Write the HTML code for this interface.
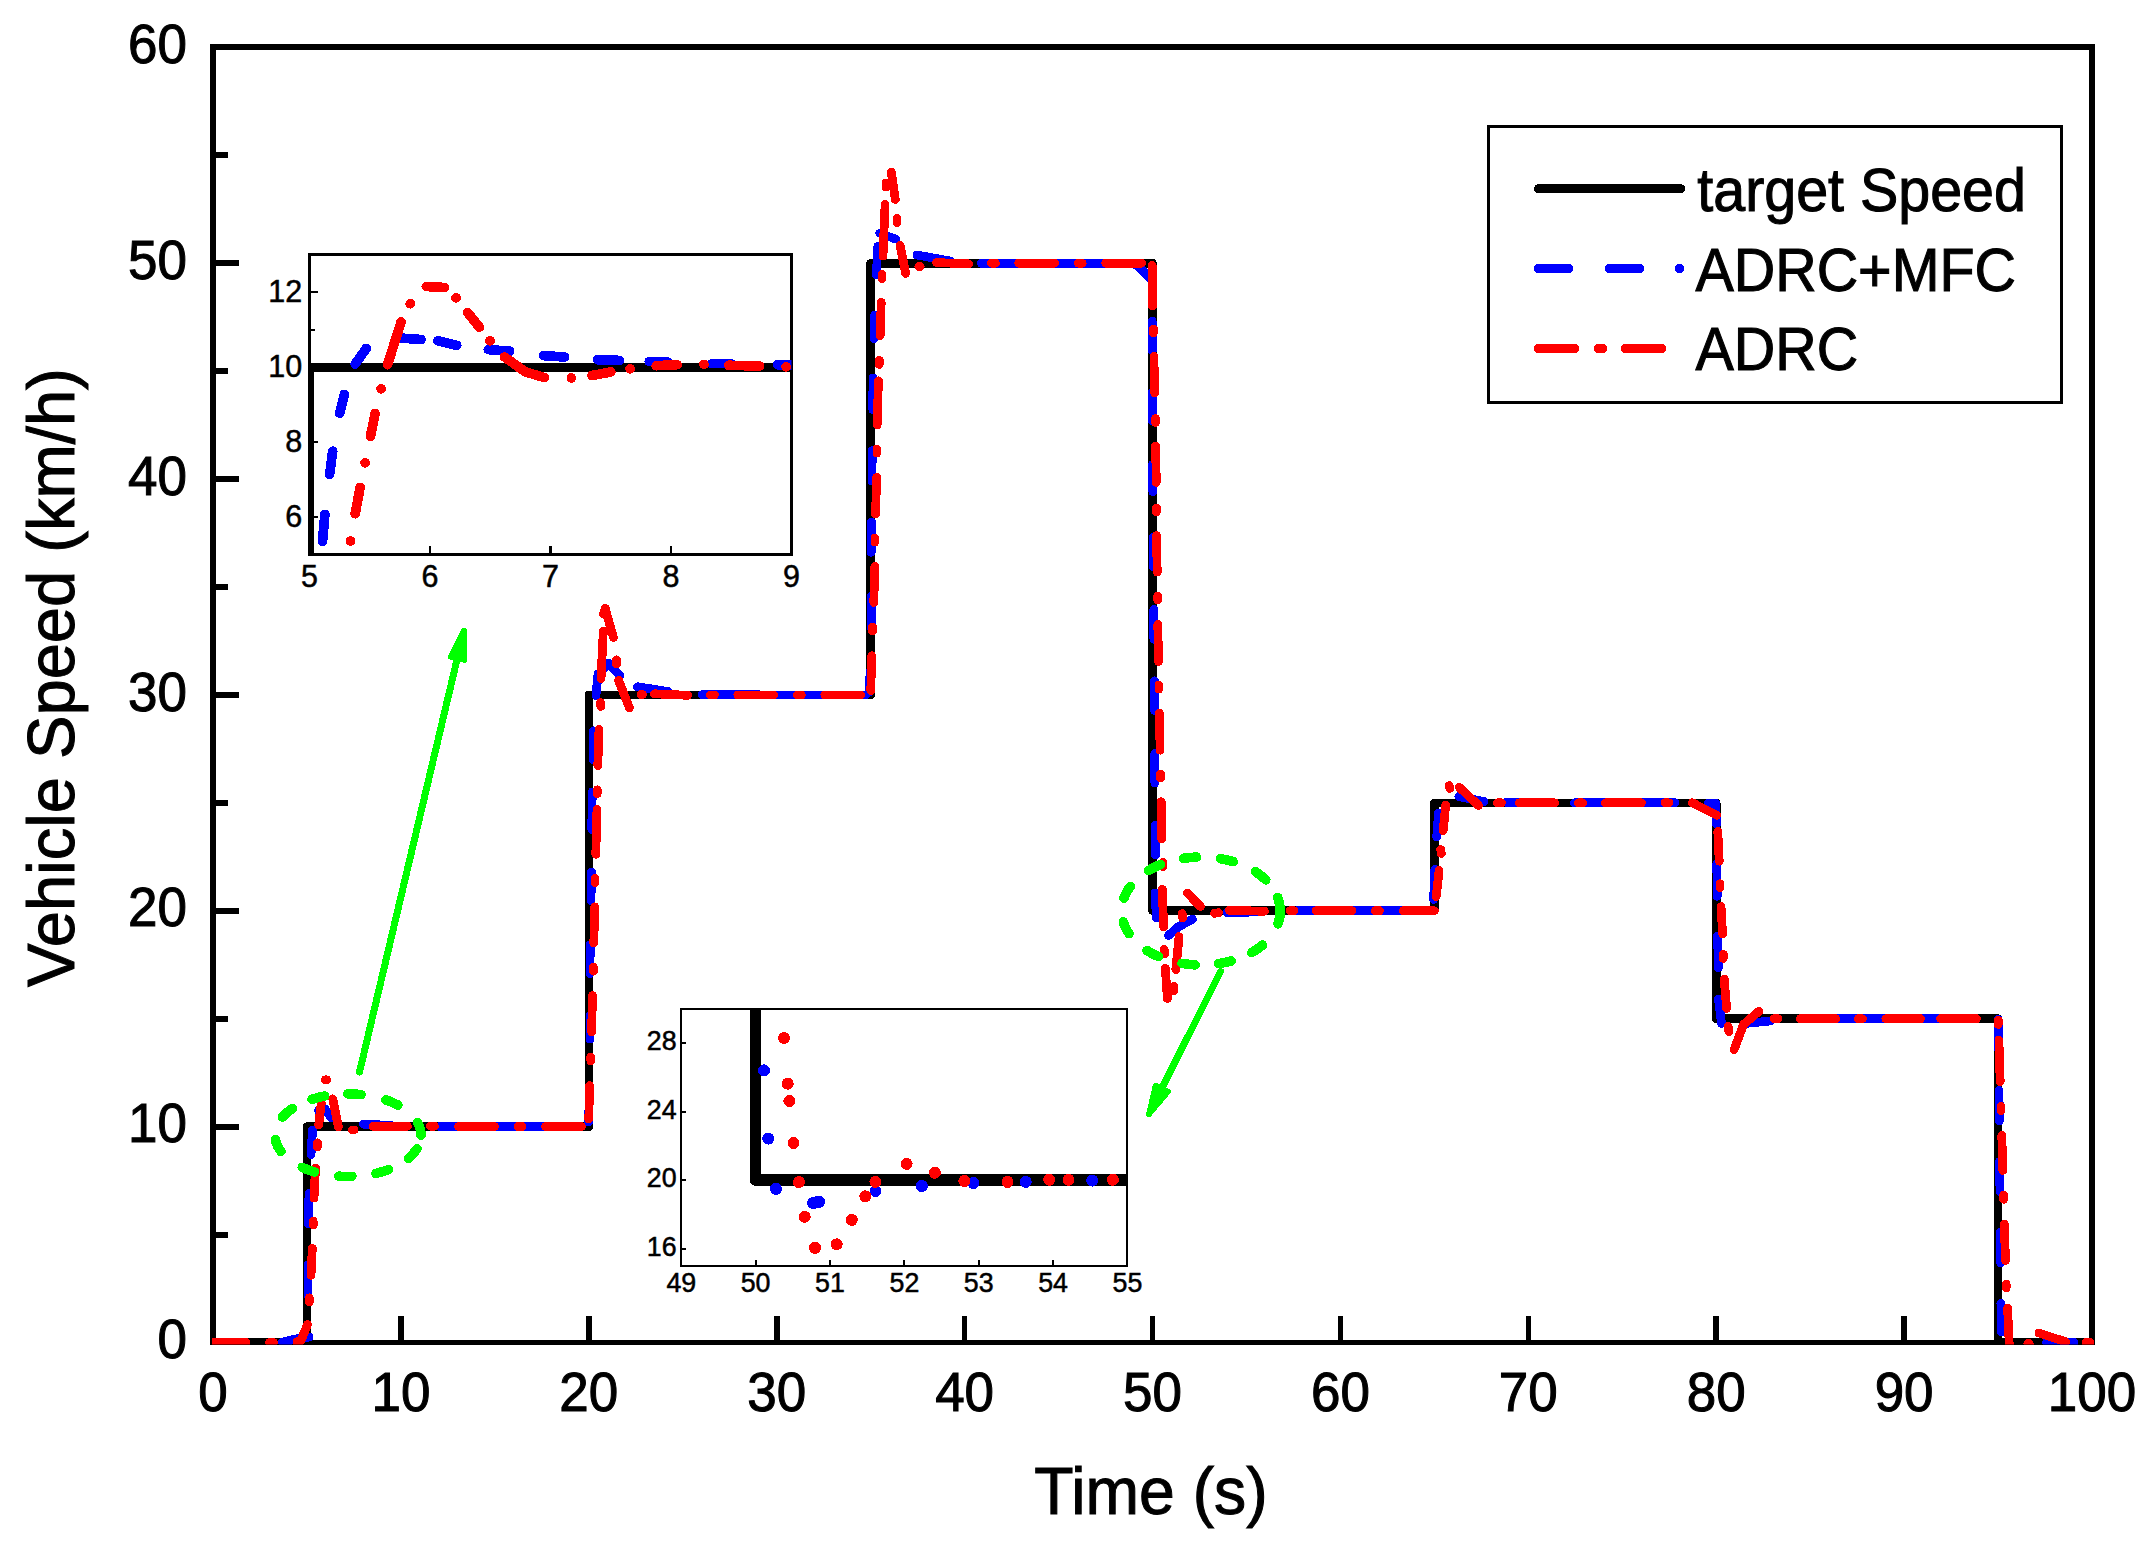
<!DOCTYPE html>
<html lang="en"><head><meta charset="utf-8"><title>Vehicle Speed</title>
<style>html,body{margin:0;padding:0;background:#fff}svg{display:block}text{font-family:"Liberation Sans",Arial,sans-serif;fill:#000}</style>
</head><body>
<svg shape-rendering="crispEdges" width="2148" height="1548" viewBox="0 0 2148 1548">
<rect width="2148" height="1548" fill="#fff"/>
<defs><clipPath id="cpMain"><rect x="212" y="44" width="1883" height="1300.6"/></clipPath>
<clipPath id="cpIn1"><rect x="309.5" y="254.7" width="482" height="299.8"/></clipPath>
<clipPath id="cpIn2"><rect x="681.3" y="1009.2" width="446.1" height="256.4"/></clipPath></defs>
<g stroke="#000" fill="none">
<path d="M213 1345 V47 H2092 V1345" stroke-width="6" stroke-linejoin="miter"/>
<line x1="210" y1="1342.5" x2="2095" y2="1342.5" stroke-width="5"/>
<line x1="213.0" y1="1342.4" x2="239" y2="1342.4" stroke-width="6"/>
<line x1="213.0" y1="1126.6" x2="239" y2="1126.6" stroke-width="6"/>
<line x1="213.0" y1="910.7" x2="239" y2="910.7" stroke-width="6"/>
<line x1="213.0" y1="694.9" x2="239" y2="694.9" stroke-width="6"/>
<line x1="213.0" y1="479.1" x2="239" y2="479.1" stroke-width="6"/>
<line x1="213.0" y1="263.2" x2="239" y2="263.2" stroke-width="6"/>
<line x1="213.0" y1="47.4" x2="239" y2="47.4" stroke-width="6"/>
<line x1="213.0" y1="1234.5" x2="228" y2="1234.5" stroke-width="6"/>
<line x1="213.0" y1="1018.7" x2="228" y2="1018.7" stroke-width="6"/>
<line x1="213.0" y1="802.8" x2="228" y2="802.8" stroke-width="6"/>
<line x1="213.0" y1="587.0" x2="228" y2="587.0" stroke-width="6"/>
<line x1="213.0" y1="371.2" x2="228" y2="371.2" stroke-width="6"/>
<line x1="213.0" y1="155.3" x2="228" y2="155.3" stroke-width="6"/>
<line x1="213.0" y1="1342" x2="213.0" y2="1316.2" stroke-width="5.6"/>
<line x1="400.9" y1="1342" x2="400.9" y2="1316.2" stroke-width="5.6"/>
<line x1="588.8" y1="1342" x2="588.8" y2="1316.2" stroke-width="5.6"/>
<line x1="776.7" y1="1342" x2="776.7" y2="1316.2" stroke-width="5.6"/>
<line x1="964.6" y1="1342" x2="964.6" y2="1316.2" stroke-width="5.6"/>
<line x1="1152.5" y1="1342" x2="1152.5" y2="1316.2" stroke-width="5.6"/>
<line x1="1340.4" y1="1342" x2="1340.4" y2="1316.2" stroke-width="5.6"/>
<line x1="1528.3" y1="1342" x2="1528.3" y2="1316.2" stroke-width="5.6"/>
<line x1="1716.2" y1="1342" x2="1716.2" y2="1316.2" stroke-width="5.6"/>
<line x1="1904.1" y1="1342" x2="1904.1" y2="1316.2" stroke-width="5.6"/>
<line x1="2092.0" y1="1342" x2="2092.0" y2="1316.2" stroke-width="5.6"/>
</g>
<text transform="translate(187.0,1358.1) scale(1,1.037)" font-size="53px" text-anchor="end" stroke="#000" stroke-width="1.0">0</text>
<text transform="translate(187.0,1142.3) scale(1,1.037)" font-size="53px" text-anchor="end" stroke="#000" stroke-width="1.0">10</text>
<text transform="translate(187.0,926.4) scale(1,1.037)" font-size="53px" text-anchor="end" stroke="#000" stroke-width="1.0">20</text>
<text transform="translate(187.0,710.6) scale(1,1.037)" font-size="53px" text-anchor="end" stroke="#000" stroke-width="1.0">30</text>
<text transform="translate(187.0,494.8) scale(1,1.037)" font-size="53px" text-anchor="end" stroke="#000" stroke-width="1.0">40</text>
<text transform="translate(187.0,278.9) scale(1,1.037)" font-size="53px" text-anchor="end" stroke="#000" stroke-width="1.0">50</text>
<text transform="translate(187.0,63.1) scale(1,1.037)" font-size="53px" text-anchor="end" stroke="#000" stroke-width="1.0">60</text>
<text transform="translate(213.0,1410.6) scale(1,1.037)" font-size="53px" text-anchor="middle" stroke="#000" stroke-width="1.0">0</text>
<text transform="translate(400.9,1410.6) scale(1,1.037)" font-size="53px" text-anchor="middle" stroke="#000" stroke-width="1.0">10</text>
<text transform="translate(588.8,1410.6) scale(1,1.037)" font-size="53px" text-anchor="middle" stroke="#000" stroke-width="1.0">20</text>
<text transform="translate(776.7,1410.6) scale(1,1.037)" font-size="53px" text-anchor="middle" stroke="#000" stroke-width="1.0">30</text>
<text transform="translate(964.6,1410.6) scale(1,1.037)" font-size="53px" text-anchor="middle" stroke="#000" stroke-width="1.0">40</text>
<text transform="translate(1152.5,1410.6) scale(1,1.037)" font-size="53px" text-anchor="middle" stroke="#000" stroke-width="1.0">50</text>
<text transform="translate(1340.4,1410.6) scale(1,1.037)" font-size="53px" text-anchor="middle" stroke="#000" stroke-width="1.0">60</text>
<text transform="translate(1528.3,1410.6) scale(1,1.037)" font-size="53px" text-anchor="middle" stroke="#000" stroke-width="1.0">70</text>
<text transform="translate(1716.2,1410.6) scale(1,1.037)" font-size="53px" text-anchor="middle" stroke="#000" stroke-width="1.0">80</text>
<text transform="translate(1904.1,1410.6) scale(1,1.037)" font-size="53px" text-anchor="middle" stroke="#000" stroke-width="1.0">90</text>
<text transform="translate(2092.0,1410.6) scale(1,1.037)" font-size="53px" text-anchor="middle" stroke="#000" stroke-width="1.0">100</text>
<text transform="translate(1151.0,1514.0) scale(1,1.040)" font-size="64.3px" text-anchor="middle" stroke="#000" stroke-width="1.0">Time (s)</text>
<text transform="translate(74.0,677.6) rotate(-90) scale(1,1.030)" font-size="65.1px" text-anchor="middle" stroke="#000" stroke-width="1.0">Vehicle Speed (km/h)</text>
<g clip-path="url(#cpMain)" fill="none" stroke-linejoin="round">
<polyline points="213.0,1342.4 306.9,1342.4 306.9,1126.6 588.8,1126.6 588.8,694.9 870.6,694.9 870.6,263.2 1152.5,263.2 1152.5,910.7 1434.3,910.7 1434.3,802.8 1716.2,802.8 1716.2,1018.7 1998.0,1018.7 1998.0,1342.4 2092.0,1342.4" stroke="#000" stroke-width="8.6"/>
<path d="M363.4 1124.2 L391.0 1125.4 M439.5 1126.6 L579.0 1126.6 M702.0 694.8 L760.0 694.9 M760.0 694.9 L866.0 694.9 M981.4 263.4 L1030.0 263.2 M1030.0 263.2 L1130.0 263.2 M1130.0 263.2 L1137.0 264.8 M1137.0 264.8 L1151.5 279.5 M1297.8 910.4 L1430.0 910.7 M1506.0 802.3 L1545.0 802.6 M1574.4 802.8 L1675.0 802.8 M1819.0 1018.7 L1947.0 1018.7 M588.8 1110.4 L588.8 1122.0 M590.0 1015.9 L590.0 1039.1 M590.2 944.6 L590.0 973.6 M591.4 871.9 L591.0 900.9 M592.2 791.9 L591.8 829.6 M593.6 730.8 L593.2 759.8 M870.0 671.7 L869.6 692.0 M871.2 596.0 L871.2 628.0 M871.4 521.9 L871.2 552.3 M872.2 450.6 L872.0 481.1 M873.0 377.9 L872.8 409.8 M874.6 315.3 L874.0 338.5 M1152.2 321.0 L1152.3 350.6 M1152.4 392.3 L1152.5 421.0 M1152.7 464.3 L1152.8 491.8 M1153.2 536.9 L1153.3 566.6 M1153.8 609.5 L1153.9 639.2 M1154.4 680.8 L1154.5 710.5 M1154.8 753.4 L1154.9 783.1 M1155.4 825.2 L1155.5 854.8 M282.6 1342.0 L296.0 1339.0 M296.0 1339.0 L309.0 1337.0 M308.0 1265.0 L308.0 1295.5 M309.0 1193.5 L308.5 1224.0 M312.5 1130.0 L311.0 1154.5 M318.5 1110.5 L322.0 1108.5 M322.0 1108.5 L325.0 1109.0 M325.0 1109.0 L331.0 1117.5 M598.0 674.0 L596.0 695.5 M604.0 668.0 L608.0 663.0 M608.0 663.0 L620.0 675.5 M637.5 686.8 L668.0 691.5 M877.9 246.2 L876.3 274.7 M879.8 233.3 L895.5 239.0 M917.0 255.0 L950.0 261.0 M1155.0 893.0 L1156.5 918.0 M1168.5 935.5 L1178.0 927.0 M1178.0 927.0 L1192.5 919.3 M1227.0 912.5 L1255.0 912.0 M1434.8 869.5 L1433.6 899.4 M1438.5 813.0 L1436.7 836.8 M1458.8 796.5 L1484.0 801.5 M1708.5 803.2 L1715.8 803.5 M1715.8 803.5 L1716.5 824.0 M1716.8 863.6 L1717.2 896.3 M1717.6 936.0 L1718.4 967.6 M1718.5 999.0 L1721.5 1023.5 M1745.0 1023.5 L1770.0 1021.0 M1998.3 1019.5 L1998.6 1049.8 M1999.0 1090.5 L1999.3 1120.8 M1999.6 1161.5 L2000.0 1191.8 M2000.3 1232.5 L2000.6 1262.8 M2000.9 1303.5 L2001.4 1331.8 M2046.4 1342.5 L2073.8 1342.5" stroke="#0000ff" stroke-width="8.8" stroke-linecap="round" stroke-linejoin="round"/>
<path d="M458.5 1126.6 L494.5 1126.6 M518.0 1126.6 L522.0 1126.6 M545.5 1126.6 L581.5 1126.6 M737.8 694.9 L773.8 694.9 M797.3 694.9 L801.3 694.9 M824.8 694.9 L860.8 694.9 M1018.7 263.2 L1054.7 263.2 M1078.2 263.2 L1082.2 263.2 M1105.7 263.2 L1141.7 263.2 M1316.0 910.7 L1352.0 910.7 M1375.5 910.7 L1379.5 910.7 M1605.4 802.8 L1641.4 802.8 M1664.9 802.8 L1668.9 802.8 M589.6 1085.7 L588.8 1119.0 M590.8 1056.9 L590.8 1060.9 M592.5 995.5 L591.6 1031.8 M593.5 967.3 L593.5 971.3 M594.8 906.8 L593.8 943.1 M594.9 878.5 L594.9 882.5 M597.0 809.3 L595.8 854.3 M597.2 789.8 L597.2 793.8 M599.0 729.3 L597.8 765.6 M871.7 655.7 L870.8 690.5 M872.6 626.9 L872.6 630.9 M874.8 566.4 L873.8 602.4 M874.9 538.1 L874.9 542.1 M876.6 477.4 L875.6 513.9 M876.9 449.1 L876.9 453.1 M878.4 380.8 L877.2 424.9 M879.3 360.4 L879.3 364.4 M881.2 302.2 L880.2 335.6 M1152.2 265.5 L1152.6 306.0 M1153.4 329.0 L1153.4 333.0 M1153.9 356.3 L1154.6 392.8 M1155.5 418.6 L1155.5 422.6 M1155.6 446.0 L1156.3 482.4 M1156.4 507.9 L1156.4 511.9 M1156.5 535.6 L1157.2 572.1 M1157.7 595.9 L1157.7 599.9 M1157.8 624.4 L1158.5 661.4 M1158.9 685.1 L1158.9 689.1 M1159.4 713.3 L1160.1 750.2 M1160.6 773.9 L1160.6 777.9 M1161.2 801.7 L1161.8 839.0 M213.0 1342.4 L246.0 1342.4 M269.5 1342.4 L273.5 1342.4 M297.0 1342.0 L301.0 1340.5 M301.0 1340.5 L307.5 1324.5 M309.3 1297.8 L309.3 1301.8 M312.3 1248.5 L311.0 1275.3 M313.2 1221.1 L313.2 1225.1 M315.5 1168.0 L314.0 1198.0 M317.4 1142.8 L317.4 1146.8 M318.7 1124.8 L321.3 1103.0 M325.2 1079.8 L326.8 1079.8 M332.7 1098.9 L338.4 1126.8 M352.6 1129.9 L354.1 1129.9 M373.2 1126.3 L407.4 1126.3 M430.5 1126.3 L434.5 1126.3 M600.5 702.5 L600.8 706.5 M601.0 678.6 L603.3 631.0 M603.6 614.0 L605.2 608.3 M605.2 608.3 L613.4 637.5 M616.5 659.8 L616.5 663.8 M618.6 680.4 L629.4 707.8 M641.0 694.4 L642.5 694.4 M654.5 693.8 L687.6 695.3 M710.4 694.9 L714.4 694.9 M882.0 274.5 L882.0 278.5 M883.0 256.0 L885.1 204.3 M886.0 183.0 L886.0 187.0 M891.3 172.0 L895.3 199.5 M897.0 218.6 L897.0 222.6 M900.1 245.4 L905.6 273.4 M918.8 266.6 L920.2 266.6 M936.5 262.6 L968.6 263.8 M991.4 263.2 L995.4 263.2 M1163.0 862.5 L1163.0 866.5 M1162.3 889.3 L1163.6 926.8 M1182.3 913.5 L1182.7 918.0 M1187.5 893.2 L1200.6 906.5 M1214.5 913.3 L1218.5 912.7 M1229.3 910.3 L1264.5 911.3 M1290.0 910.7 L1294.0 910.7 M1164.2 949.3 L1164.6 953.7 M1179.1 936.6 L1175.8 969.6 M1165.3 968.3 L1167.4 998.5 M1173.8 986.5 L1173.8 990.5 M1403.3 910.7 L1434.4 910.7 M1439.1 870.4 L1436.2 896.7 M1440.7 849.5 L1441.3 853.5 M1445.7 805.2 L1443.2 830.6 M1449.2 785.5 L1449.8 788.5 M1459.4 787.4 L1478.6 805.5 M1497.4 802.8 L1501.4 802.8 M1519.3 802.8 L1554.7 802.8 M1578.5 802.8 L1582.5 802.8 M1692.3 802.8 L1716.8 815.2 M1717.8 831.5 L1719.2 861.2 M1720.0 883.7 L1720.0 887.7 M1721.0 906.6 L1722.6 934.0 M1723.3 954.4 L1723.3 958.4 M1724.2 979.0 L1726.6 1008.3 M1728.2 1026.5 L1728.8 1031.6 M1734.1 1049.5 L1743.4 1024.7 M1743.4 1024.7 L1758.9 1011.3 M1774.0 1018.7 L1778.0 1018.7 M1800.4 1018.7 L1835.7 1018.7 M1858.4 1018.7 L1862.4 1018.7 M1885.8 1018.7 L1920.5 1018.7 M1940.6 1018.7 L1976.5 1018.7 M1998.3 1020.4 L1998.3 1024.4 M1998.9 1040.0 L2000.2 1081.6 M2001.0 1106.5 L2001.0 1110.5 M2001.8 1135.4 L2002.8 1170.4 M2003.6 1195.3 L2003.6 1199.3 M2004.3 1224.2 L2005.5 1260.4 M2006.2 1284.0 L2006.2 1288.0 M2007.6 1308.2 L2009.3 1346.0 M2027.8 1343.5 L2029.3 1343.5 M2039.0 1333.0 L2065.5 1341.8 M2086.0 1342.4 L2090.0 1342.4" stroke="#ff0000" stroke-width="8.8" stroke-linecap="round" stroke-linejoin="round"/>
</g>
<g fill="none" stroke="#00ff00" stroke-linecap="round" stroke-linejoin="round">
<path d="M347.9 1093.9 L351.1 1093.9 M351.1 1093.9 L354.4 1094.1 M354.4 1094.1 L357.7 1094.3 M357.7 1094.3 L360.9 1094.6 M385.9 1099.9 L388.9 1101.0 M388.9 1101.0 L391.9 1102.2 M391.9 1102.2 L394.9 1103.6 M394.9 1103.6 L397.9 1105.0 M417.6 1122.7 L419.0 1125.7 M419.0 1125.7 L420.1 1128.7 M420.1 1128.7 L420.8 1132.0 M420.8 1132.0 L421.0 1135.2 M417.0 1148.7 L415.1 1151.4 M415.1 1151.4 L413.0 1153.9 M413.0 1153.9 L410.7 1156.3 M410.7 1156.3 L408.3 1158.5 M388.5 1169.6 L385.4 1170.7 M385.4 1170.7 L382.3 1171.7 M382.3 1171.7 L379.1 1172.6 M379.1 1172.6 L375.9 1173.4 M351.9 1176.4 L348.7 1176.5 M348.7 1176.5 L345.5 1176.5 M345.5 1176.5 L342.1 1176.4 M342.1 1176.4 L338.9 1176.2 M314.5 1171.9 L311.3 1170.9 M311.3 1170.9 L308.2 1169.8 M308.2 1169.8 L305.1 1168.6 M305.1 1168.6 L302.2 1167.3 M280.9 1151.4 L279.0 1148.7 M279.0 1148.7 L277.5 1145.9 M277.5 1145.9 L276.3 1142.8 M276.3 1142.8 L275.4 1139.7 M282.5 1117.0 L284.7 1114.6 M284.7 1114.6 L287.1 1112.4 M287.1 1112.4 L289.7 1110.3 M289.7 1110.3 L292.4 1108.5 M312.1 1099.3 L315.2 1098.3 M315.2 1098.3 L318.3 1097.5 M318.3 1097.5 L321.5 1096.7 M321.5 1096.7 L324.7 1096.1" stroke-width="9.6"/>
<path d="M1183.5 858.3 L1186.8 857.9 M1186.8 857.9 L1190.0 857.5 M1190.0 857.5 L1193.3 857.3 M1193.3 857.3 L1196.5 857.1 M1220.5 858.6 L1223.7 859.3 M1223.7 859.3 L1226.8 859.9 M1226.8 859.9 L1230.0 860.7 M1230.0 860.7 L1233.2 861.6 M1255.5 871.8 L1258.2 873.6 M1258.2 873.6 L1260.8 875.6 M1260.8 875.6 L1263.4 877.7 M1263.4 877.7 L1265.8 879.9 M1277.7 897.4 L1279.6 903.9 M1279.6 903.9 L1280.3 910.5 M1280.3 910.5 L1279.8 917.3 M1279.8 917.3 L1278.0 923.8 M1262.5 945.1 L1260.0 947.1 M1260.0 947.1 L1257.4 949.0 M1257.4 949.0 L1254.6 950.8 M1254.6 950.8 L1251.8 952.5 M1231.2 960.9 L1228.0 961.8 M1228.0 961.8 L1224.8 962.5 M1224.8 962.5 L1221.6 963.1 M1221.6 963.1 L1218.4 963.7 M1195.1 964.9 L1191.8 964.6 M1191.8 964.6 L1188.6 964.3 M1188.6 964.3 L1185.3 963.9 M1185.3 963.9 L1182.1 963.4 M1158.6 956.6 L1155.6 955.3 M1155.6 955.3 L1152.7 953.8 M1152.7 953.8 L1149.8 952.2 M1149.8 952.2 L1147.0 950.6 M1129.0 933.6 L1127.2 930.8 M1127.2 930.8 L1125.7 928.0 M1125.7 928.0 L1124.4 924.9 M1124.4 924.9 L1123.3 921.9 M1124.0 898.0 L1125.3 895.0 M1125.3 895.0 L1126.7 892.1 M1126.7 892.1 L1128.4 889.3 M1128.4 889.3 L1130.3 886.6 M1148.7 870.4 L1151.5 868.8 M1151.5 868.8 L1154.4 867.3 M1154.4 867.3 L1157.4 865.9 M1157.4 865.9 L1160.4 864.6" stroke-width="9.6"/>
<line x1="359.5" y1="1072.0" x2="457.1" y2="659.2" stroke-width="7.0"/>
<polygon points="464.0,630.4 464.1,660.0 450.6,656.8" fill="#00ff00" stroke-width="5.6"/>
<line x1="1220.6" y1="971.5" x2="1162.1" y2="1087.9" stroke-width="7.0"/>
<polygon points="1148.9,1114.3 1155.6,1085.5 1168.0,1091.7" fill="#00ff00" stroke-width="5.6"/>
</g>
<rect x="1488.5" y="126.5" width="573" height="276" fill="none" stroke="#000" stroke-width="3"/>
<g fill="none" stroke-linecap="round">
<line x1="1538.5" y1="188.7" x2="1680.7" y2="188.7" stroke="#000" stroke-width="9"/>
<path d="M1538.6 268.6 H1568.4 M1609.5 268.6 H1639.5 M1679.5 268.6 h0.1" stroke="#0000ff" stroke-width="9.5"/>
<path d="M1538.6 348.5 H1574.4 M1598.4 348.5 H1602.4 M1625.7 348.5 H1661.6" stroke="#ff0000" stroke-width="9.5"/>
</g>
<text transform="translate(1697.3,211.2) scale(1,1.050)" font-size="57.4px" text-anchor="start" stroke="#000" stroke-width="1.0">target Speed</text>
<text transform="translate(1695.5,290.8) scale(1,1.050)" font-size="57.4px" text-anchor="start" stroke="#000" stroke-width="1.0">ADRC+MFC</text>
<text transform="translate(1695.5,370.1) scale(1,1.050)" font-size="57.4px" text-anchor="start" stroke="#000" stroke-width="1.0">ADRC</text>
<g clip-path="url(#cpIn1)" fill="none">
<polyline points="309.5,592.0 309.5,367.6 815.6,367.6" stroke="#000" stroke-width="9.7" stroke-linejoin="miter"/>
</g>
<g fill="none" stroke="#000">
<rect x="309.5" y="254.7" width="482.0" height="299.8" stroke-width="2.8"/>
<line x1="430.0" y1="554.5" x2="430.0" y2="545.5" stroke-width="2.2"/>
<line x1="550.5" y1="554.5" x2="550.5" y2="545.5" stroke-width="2.2"/>
<line x1="671.0" y1="554.5" x2="671.0" y2="545.5" stroke-width="2.2"/>
<line x1="309.5" y1="517.0" x2="317.5" y2="517.0" stroke-width="2.2"/>
<line x1="309.5" y1="442.1" x2="317.5" y2="442.1" stroke-width="2.2"/>
<line x1="309.5" y1="367.1" x2="317.5" y2="367.1" stroke-width="2.2"/>
<line x1="309.5" y1="292.2" x2="317.5" y2="292.2" stroke-width="2.2"/>
<line x1="309.5" y1="329.6" x2="314.5" y2="329.6" stroke-width="2.2"/>
</g>
<text transform="translate(302.2,526.6) scale(1,1.037)" font-size="30.5px" text-anchor="end" stroke="#000" stroke-width="0.5">6</text>
<text transform="translate(302.2,451.7) scale(1,1.037)" font-size="30.5px" text-anchor="end" stroke="#000" stroke-width="0.5">8</text>
<text transform="translate(302.2,376.7) scale(1,1.037)" font-size="30.5px" text-anchor="end" stroke="#000" stroke-width="0.5">10</text>
<text transform="translate(302.2,301.8) scale(1,1.037)" font-size="30.5px" text-anchor="end" stroke="#000" stroke-width="0.5">12</text>
<text transform="translate(309.5,586.5) scale(1,1.037)" font-size="30.5px" text-anchor="middle" stroke="#000" stroke-width="0.5">5</text>
<text transform="translate(430.0,586.5) scale(1,1.037)" font-size="30.5px" text-anchor="middle" stroke="#000" stroke-width="0.5">6</text>
<text transform="translate(550.5,586.5) scale(1,1.037)" font-size="30.5px" text-anchor="middle" stroke="#000" stroke-width="0.5">7</text>
<text transform="translate(671.0,586.5) scale(1,1.037)" font-size="30.5px" text-anchor="middle" stroke="#000" stroke-width="0.5">8</text>
<text transform="translate(791.5,586.5) scale(1,1.037)" font-size="30.5px" text-anchor="middle" stroke="#000" stroke-width="0.5">9</text>
<g clip-path="url(#cpIn1)" fill="none" stroke-linecap="round" stroke-linejoin="round" stroke-width="9.7">
<path d="M322.5 541.4 L324.9 514.4 M329.6 474.6 L332.7 451.2 M339.7 413.1 L344.3 394.4 M355.2 364.0 L366.2 348.5 M402.4 338.2 L421.1 339.5 M437.9 340.8 L456.7 345.3 M488.3 349.6 L509.6 351.1 M543.7 355.6 L564.7 357.0 M597.5 359.7 L619.2 360.4 M649.2 361.5 L668.0 362.2 M712.0 363.6 L731.0 363.6 M777.7 364.7 L793.0 364.7" stroke="#0000ff"/>
<path d="M350.5 541.0 L350.6 541.0 M355.2 513.7 L360.1 487.4 M365.1 462.8 L365.2 462.8 M370.5 436.2 L375.1 413.5 M381.1 388.8 L381.2 388.8 M387.5 364.7 L401.1 322.0 M410.2 303.7 L410.3 303.7 M426.3 286.5 L444.4 287.5 M456.0 297.9 L456.1 297.9 M467.6 312.4 L479.3 327.2 M490.0 340.8 L490.1 340.8 M504.5 356.9 L525.1 371.8 M525.1 371.8 L544.4 377.6 M571.3 378.0 L571.4 378.0 M591.9 375.5 L610.8 372.0 M630.1 368.8 L630.2 368.8 M656.2 365.7 L677.1 364.7 M703.9 364.3 L704.0 364.3 M728.8 365.3 L759.5 366.0 M786.1 366.8 L786.2 366.8" stroke="#ff0000"/>
</g>
<g clip-path="url(#cpIn2)" fill="none">
<polyline points="755.2,992.1 755.2,1180.1 1149.7,1180.1" stroke="#000" stroke-width="11.4" stroke-linejoin="round"/>
</g>
<g fill="none" stroke="#000">
<rect x="681.3" y="1009.2" width="446.1" height="256.4" stroke-width="2.1"/>
<line x1="755.6" y1="1265.6" x2="755.6" y2="1259.6" stroke-width="2"/>
<line x1="830.0" y1="1265.6" x2="830.0" y2="1259.6" stroke-width="2"/>
<line x1="904.4" y1="1265.6" x2="904.4" y2="1259.6" stroke-width="2"/>
<line x1="978.7" y1="1265.6" x2="978.7" y2="1259.6" stroke-width="2"/>
<line x1="1053.1" y1="1265.6" x2="1053.1" y2="1259.6" stroke-width="2"/>
<line x1="681.3" y1="1248.5" x2="686.3" y2="1248.5" stroke-width="2"/>
<line x1="681.3" y1="1180.1" x2="686.3" y2="1180.1" stroke-width="2"/>
<line x1="681.3" y1="1111.8" x2="686.3" y2="1111.8" stroke-width="2"/>
<line x1="681.3" y1="1043.4" x2="686.3" y2="1043.4" stroke-width="2"/>
</g>
<text transform="translate(676.6,1255.5) scale(1,1.037)" font-size="26.8px" text-anchor="end" stroke="#000" stroke-width="0.5">16</text>
<text transform="translate(676.6,1187.1) scale(1,1.037)" font-size="26.8px" text-anchor="end" stroke="#000" stroke-width="0.5">20</text>
<text transform="translate(676.6,1118.8) scale(1,1.037)" font-size="26.8px" text-anchor="end" stroke="#000" stroke-width="0.5">24</text>
<text transform="translate(676.6,1050.4) scale(1,1.037)" font-size="26.8px" text-anchor="end" stroke="#000" stroke-width="0.5">28</text>
<text transform="translate(681.3,1292.0) scale(1,1.037)" font-size="26.8px" text-anchor="middle" stroke="#000" stroke-width="0.5">49</text>
<text transform="translate(755.6,1292.0) scale(1,1.037)" font-size="26.8px" text-anchor="middle" stroke="#000" stroke-width="0.5">50</text>
<text transform="translate(830.0,1292.0) scale(1,1.037)" font-size="26.8px" text-anchor="middle" stroke="#000" stroke-width="0.5">51</text>
<text transform="translate(904.4,1292.0) scale(1,1.037)" font-size="26.8px" text-anchor="middle" stroke="#000" stroke-width="0.5">52</text>
<text transform="translate(978.7,1292.0) scale(1,1.037)" font-size="26.8px" text-anchor="middle" stroke="#000" stroke-width="0.5">53</text>
<text transform="translate(1053.1,1292.0) scale(1,1.037)" font-size="26.8px" text-anchor="middle" stroke="#000" stroke-width="0.5">54</text>
<text transform="translate(1127.4,1292.0) scale(1,1.037)" font-size="26.8px" text-anchor="middle" stroke="#000" stroke-width="0.5">55</text>
<g fill="#0000ff">
<circle cx="764.0" cy="1070.4" r="6"/>
<circle cx="768.3" cy="1138.6" r="6"/>
<circle cx="776.0" cy="1188.9" r="6"/>
<circle cx="875.6" cy="1191.0" r="6"/>
<circle cx="921.9" cy="1186.0" r="6"/>
<circle cx="973.4" cy="1183.1" r="6"/>
<circle cx="1025.7" cy="1181.9" r="6"/>
<circle cx="1092.2" cy="1180.6" r="6"/>
<path d="M813 1203 L819.2 1201.9" stroke="#0000ff" stroke-width="12" stroke-linecap="round"/>
</g>
<g fill="#ff0000">
<circle cx="784.0" cy="1038.0" r="6"/>
<circle cx="787.7" cy="1083.7" r="6"/>
<circle cx="789.4" cy="1101.0" r="6"/>
<circle cx="793.5" cy="1143.0" r="6"/>
<circle cx="798.9" cy="1182.1" r="6"/>
<circle cx="804.7" cy="1216.8" r="6"/>
<circle cx="815.0" cy="1247.8" r="6"/>
<circle cx="836.7" cy="1244.3" r="6"/>
<circle cx="851.8" cy="1219.9" r="6"/>
<circle cx="865.3" cy="1196.3" r="6"/>
<circle cx="875.4" cy="1181.9" r="6"/>
<circle cx="906.6" cy="1163.9" r="6"/>
<circle cx="934.9" cy="1172.8" r="6"/>
<circle cx="964.3" cy="1181.0" r="6"/>
<circle cx="1007.5" cy="1181.9" r="6"/>
<circle cx="1049.2" cy="1179.8" r="6"/>
<circle cx="1068.5" cy="1179.8" r="6"/>
<circle cx="1112.9" cy="1179.8" r="6"/>
</g>
</svg></body></html>
